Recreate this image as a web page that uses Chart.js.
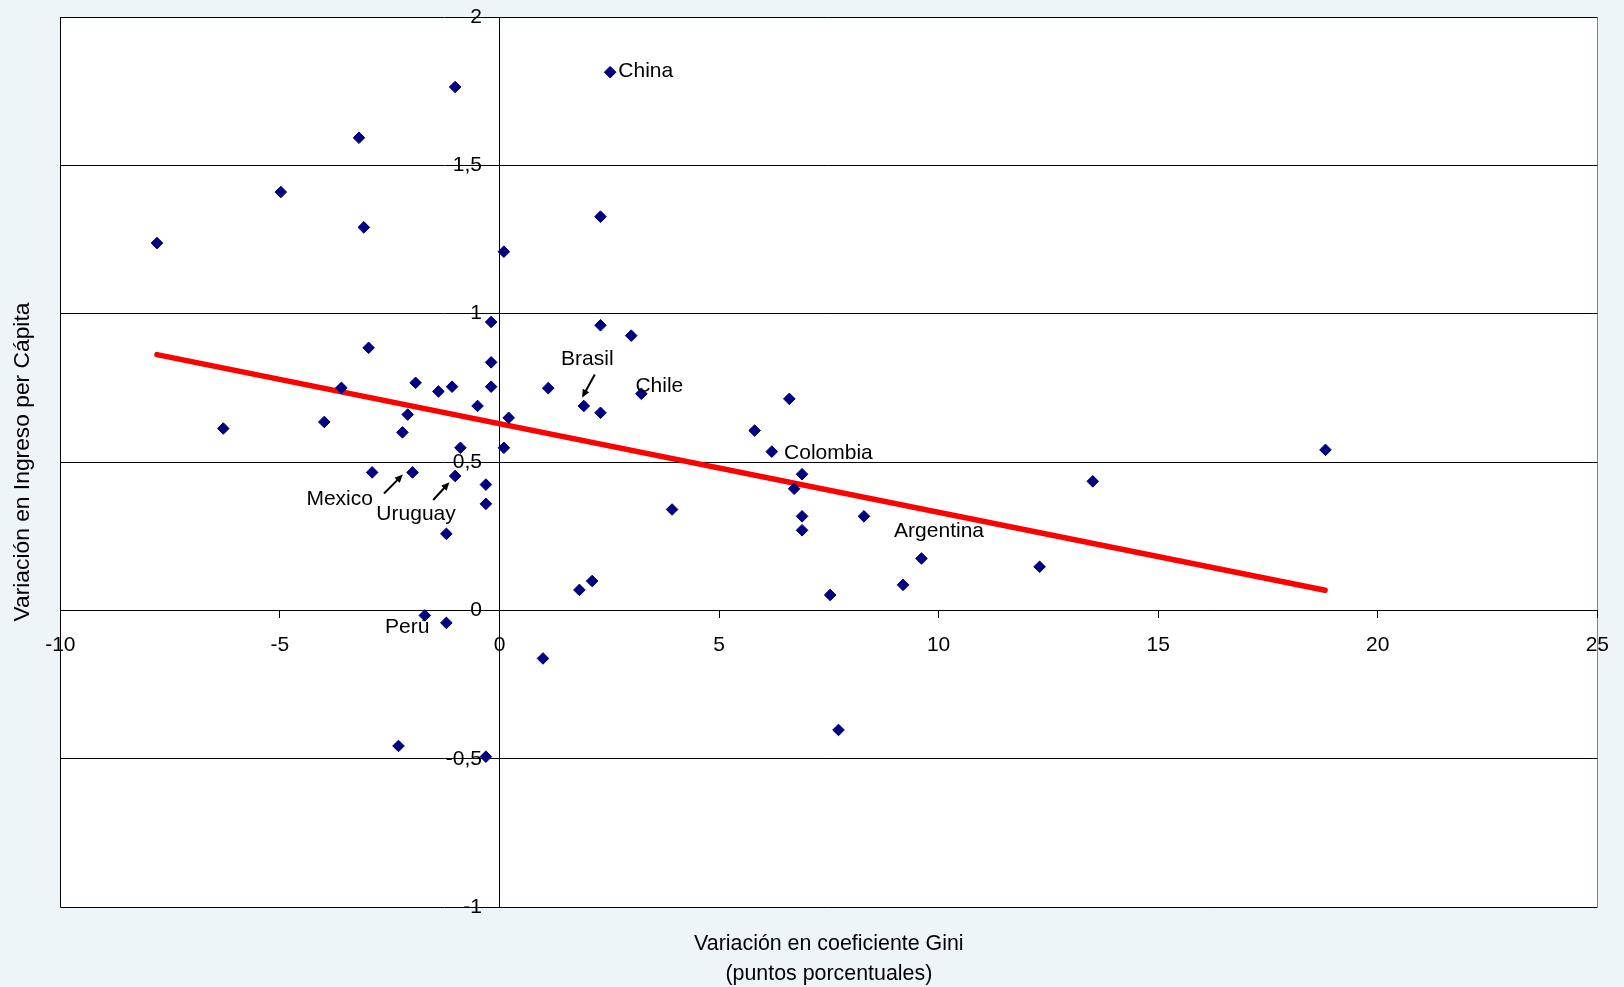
<!DOCTYPE html>
<html>
<head>
<meta charset="utf-8">
<title>Variación en Ingreso per Cápita vs. Gini</title>
<script src="https://cdn.jsdelivr.net/npm/chart.js@4.4.1/dist/chart.umd.min.js"></script>
<style>
  html, body { margin: 0; padding: 0; background: #eef5f9; }
  canvas { display: block; }
</style>
</head>
<body>
<canvas id="scatter" width="1624" height="987"></canvas>
<script>
// cambio en el Gini (puntos porcentuales) y cambio en ingreso per cápita, por país
const giniChange = [
  -7.80, -6.29, -4.98, -3.99, -3.60, -3.20, -3.09, -2.98, -2.90, -2.30,
  -2.21, -2.09, -1.98, -1.91, -1.70, -1.39, -1.21, -1.21, -1.08, -1.01,
  -1.01, -0.89, -0.50, -0.31, -0.31, -0.31, -0.19, -0.19, -0.19, 0.10,
  0.10, 0.21, 0.99, 1.11, 1.82, 1.92, 2.11, 2.30, 2.30, 2.30,
  2.52, 3.00, 3.23, 3.93, 5.81, 6.20, 6.60, 6.71, 6.89, 6.89,
  6.89, 7.53, 7.72, 8.30, 9.19, 9.61, 12.30, 13.51, 18.81
];
const incomeChange = [
  1.238, 0.613, 1.410, 0.635, 0.750, 1.593, 1.291, 0.885, 0.465, -0.457,
  0.600, 0.660, 0.465, 0.767, -0.017, 0.738, 0.258, -0.042, 0.754, 1.764,
  0.453, 0.548, 0.689, 0.424, 0.359, -0.493, 0.972, 0.836, 0.754, 1.209,
  0.548, 0.649, -0.162, 0.749, 0.069, 0.689, 0.099, 1.327, 0.961, 0.666,
  1.814, 0.926, 0.730, 0.340, 0.606, 0.535, 0.713, 0.410, 0.459, 0.317,
  0.270, 0.052, -0.403, 0.317, 0.086, 0.175, 0.147, 0.435, 0.541
];

// recta de tendencia (extremos)
const trendX = [-7.8, 18.8];
const trendY = [0.862, 0.068];

// etiquetas de países (centro del texto en unidades de los ejes)
const noteNames = ['China', 'Brasil', 'Chile', 'Colombia', 'Argentina', 'Mexico', 'Uruguay', 'Perú'];
const noteX = [3.33, 2.00, 3.64, 7.49, 10.01, -3.64, -1.90, -2.10];
const noteY = [1.818, 0.845, 0.755, 0.531, 0.266, 0.374, 0.324, -0.058];

// flechas: desde -> hasta
const arrowFromX = [2.17, -2.63, -1.51];
const arrowFromY = [0.795, 0.394, 0.372];
const arrowToX = [1.88, -2.20, -1.14];
const arrowToY = [0.717, 0.458, 0.432];

const xMin = -10, xMax = 25, xStep = 5;
const yMin = -1, yMax = 2, yStep = 0.5;

const FONT = '"Liberation Sans", Arial, sans-serif';

const plotBackground = {
  id: 'plotBackground',
  beforeDraw(chart) {
    const { ctx, chartArea: a } = chart;
    ctx.save();
    ctx.fillStyle = '#eef5f9';
    ctx.fillRect(0, 0, chart.width, chart.height);
    ctx.fillStyle = '#ffffff';
    ctx.fillRect(a.left, a.top, a.right - a.left, a.bottom - a.top);
    ctx.restore();
  }
};

const countryNotes = {
  id: 'countryNotes',
  afterDatasetsDraw(chart) {
    const { ctx, scales: { x, y } } = chart;
    ctx.save();
    ctx.font = '21px ' + FONT;
    ctx.fillStyle = '#000';
    ctx.textAlign = 'center';
    ctx.textBaseline = 'middle';
    noteNames.forEach((name, i) => {
      ctx.fillText(name, x.getPixelForValue(noteX[i]), y.getPixelForValue(noteY[i]));
    });

    ctx.strokeStyle = '#000';
    ctx.lineWidth = 2;
    arrowFromX.forEach((fx, i) => {
      const x1 = x.getPixelForValue(fx), y1 = y.getPixelForValue(arrowFromY[i]);
      const x2 = x.getPixelForValue(arrowToX[i]), y2 = y.getPixelForValue(arrowToY[i]);
      const ang = Math.atan2(y2 - y1, x2 - x1);
      const head = 9;
      ctx.beginPath();
      ctx.moveTo(x1, y1);
      ctx.lineTo(x2 - Math.cos(ang) * head * 0.6, y2 - Math.sin(ang) * head * 0.6);
      ctx.stroke();
      ctx.beginPath();
      ctx.moveTo(x2, y2);
      ctx.lineTo(x2 - head * Math.cos(ang - 0.42), y2 - head * Math.sin(ang - 0.42));
      ctx.lineTo(x2 - head * Math.cos(ang + 0.42), y2 - head * Math.sin(ang + 0.42));
      ctx.closePath();
      ctx.fill();
    });
    ctx.restore();
  }
};

const decimalComma = v => String(v).replace('.', ',');

new Chart(document.getElementById('scatter').getContext('2d'), {
  type: 'scatter',
  data: {
    datasets: [
      {
        label: 'Países',
        data: giniChange.map((g, i) => ({ x: g, y: incomeChange[i] })),
        pointStyle: 'rectRot',
        pointRadius: 5.8,
        pointBorderWidth: 1,
        backgroundColor: '#000080',
        borderColor: '#000080'
      },
      {
        label: 'Tendencia',
        type: 'line',
        data: trendX.map((t, i) => ({ x: t, y: trendY[i] })),
        borderColor: '#ff0000',
        borderWidth: 5.5,
        borderCapStyle: 'round',
        pointRadius: 0,
        fill: false
      }
    ]
  },
  options: {
    responsive: false,
    animation: false,
    devicePixelRatio: 1,
    layout: { padding: { top: 17, right: 26, bottom: -2, left: 0 } },
    plugins: {
      legend: { display: false },
      tooltip: { enabled: false },
      title: {
        display: true,
        position: 'bottom',
        fullSize: false,
        text: ['Variación en coeficiente Gini', '(puntos porcentuales)'],
        color: '#000',
        font: { family: FONT, size: 21.4, weight: 'normal', lineHeight: 1.4 },
        padding: { top: 22, bottom: 0 }
      },
      subtitle: {
        display: true,
        position: 'left',
        fullSize: false,
        text: 'Variación en Ingreso per Cápita',
        color: '#000',
        font: { family: FONT, size: 22.8, weight: 'normal', lineHeight: 1.2 },
        padding: { top: 9, bottom: 24 }
      }
    },
    scales: {
      x: {
        type: 'linear',
        position: { y: 0 },
        min: xMin,
        max: xMax,
        afterFit(scale) { scale.height = 0; },
        border: { display: true, color: '#000', width: 1 },
        grid: {
          color: ctx => ctx.tick.value === xMin ? '#000' : (ctx.tick.value === xMax ? '#808080' : 'rgba(0,0,0,0)'),
          tickColor: '#000',
          tickLength: 7,
          lineWidth: 1
        },
        ticks: {
          stepSize: xStep,
          autoSkip: false,
          maxRotation: 0,
          padding: 15,
          color: '#000',
          font: { family: FONT, size: 21 }
        }
      },
      y: {
        type: 'linear',
        position: { x: 0 },
        min: yMin,
        max: yMax,
        afterFit(scale) { scale.width = 0; },
        border: { display: true, color: '#000', width: 1 },
        grid: {
          color: '#000',
          tickColor: '#000',
          tickLength: 6,
          lineWidth: 1
        },
        ticks: {
          stepSize: yStep,
          padding: 0,
          color: '#000',
          font: { family: FONT, size: 21 },
          callback: v => decimalComma(v) + '   '
        }
      }
    }
  },
  plugins: [plotBackground, countryNotes]
});
</script>
</body>
</html>
